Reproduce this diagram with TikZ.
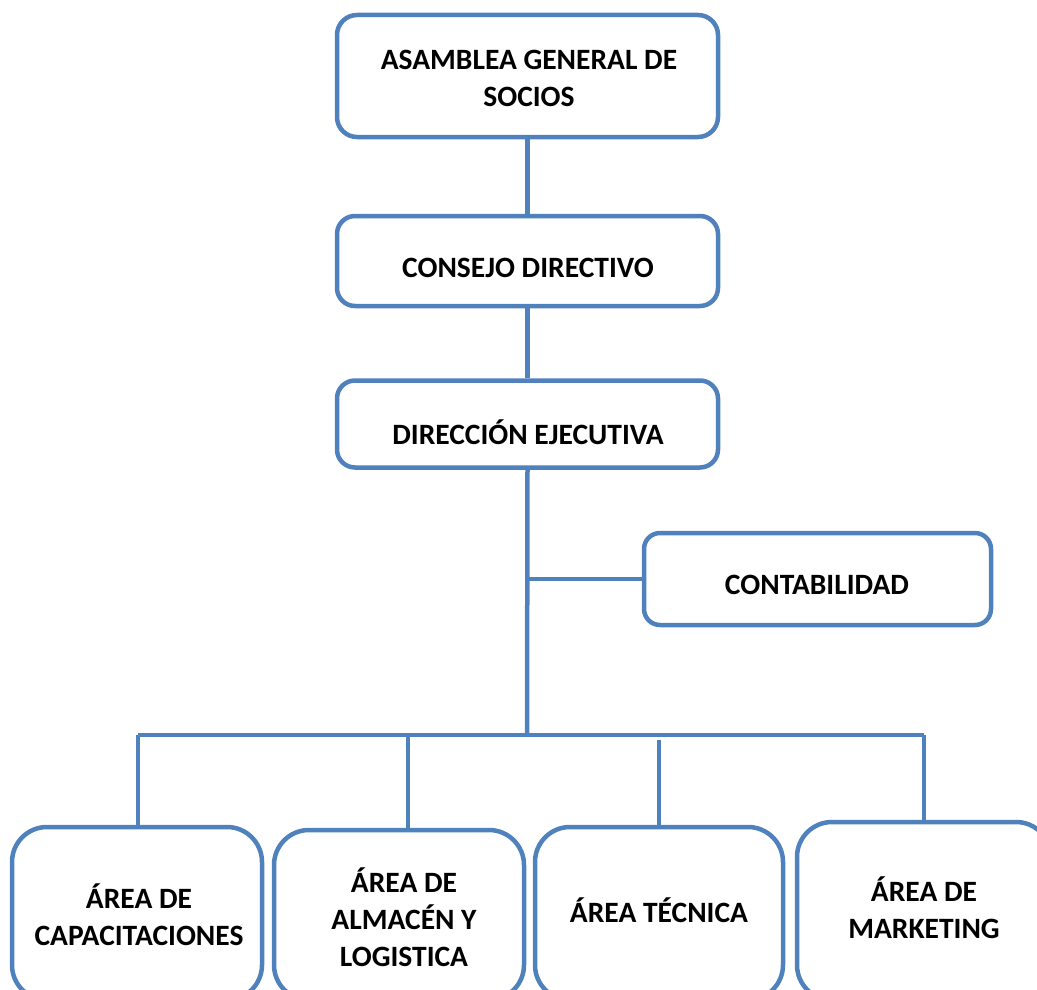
\documentclass[tikz,border=0pt]{standalone}
\usepackage{fontspec}
\setmainfont{Carlito}
\definecolor{obl}{RGB}{79,129,189}
\begin{document}
\begin{tikzpicture}[x=1pt,y=-1pt,
  orgbox/.style={draw=obl,line width=4.5pt,fill=white,inner sep=0pt},
  txt/.style={align=center,font=\fontsize{29.5}{37}\selectfont\bfseries,inner sep=0pt},
  link/.style={draw=obl,line width=4.5pt}]
\useasboundingbox (0,0) rectangle (1037,990);
\clip (0,0) rectangle (1037,990);
% boxes
\node[orgbox,rounded corners=20pt,minimum width=381pt,minimum height=122pt] (asam) at (527.5,76) {};
\node[orgbox,rounded corners=18pt,minimum width=381pt,minimum height=90pt] (cons) at (527.5,261) {};
\node[orgbox,rounded corners=18pt,minimum width=381pt,minimum height=87pt] (dir) at (527.5,424) {};
\node[orgbox,rounded corners=16pt,minimum width=347pt,minimum height=92pt] (cont) at (817.5,579) {};
\node[orgbox,rounded corners=35pt,minimum width=250pt,minimum height=173pt] (b1) at (137,913.5) {};
\node[orgbox,rounded corners=35pt,minimum width=250pt,minimum height=170pt] (b2) at (399,915) {};
\node[orgbox,rounded corners=35pt,minimum width=248pt,minimum height=173pt] (b3) at (659,913.5) {};
\node[orgbox,rounded corners=35pt,minimum width=254pt,minimum height=178pt] (b4) at (924,911) {};
% texts
\node[txt] (asamT) at (529,78) {ASAMBLEA GENERAL DE\\SOCIOS};
\node[txt] (consT) at (528,268) {CONSEJO DIRECTIVO};
\node[txt] (dirT) at (528,432) {DIRECCIÓN EJECUTIVA};
\node[txt] (contT) at (817,585) {CONTABILIDAD};
\node[txt] (b1T) at (139,915) {ÁREA DE\\CAPACITACIONES};
\node[txt] (b2T) at (404,917) {ÁREA DE\\ALMACÉN Y\\LOGISTICA};
\node[txt] (b3T) at (659,910) {ÁREA TÉCNICA};
\node[txt] (b4T) at (924,908) {ÁREA DE\\MARKETING};
% connectors
\coordinate (bus) at (527,735);
\coordinate (d1) at (138,735);
\coordinate (d2) at (408,735);
\coordinate (d3) at (659,740);
\coordinate (d4) at (924,735);
\draw[link] (asam.south) -- (cons.north);
\draw[link] (cons.south) -- (dir.north);
\draw[link] (dir.south) -- (bus);
\draw[link] (cont.west) -- (cont.west -| dir.south);
\draw[link] (d1) -- (d4);
\draw[link] (d1) -- (d1 |- b1.north);
\draw[link] (d2) -- (d2 |- b2.north);
\draw[link] (d3) -- (d3 |- b3.north);
\draw[link] (d4) -- (d4 |- b4.north);
\end{tikzpicture}
\end{document}
